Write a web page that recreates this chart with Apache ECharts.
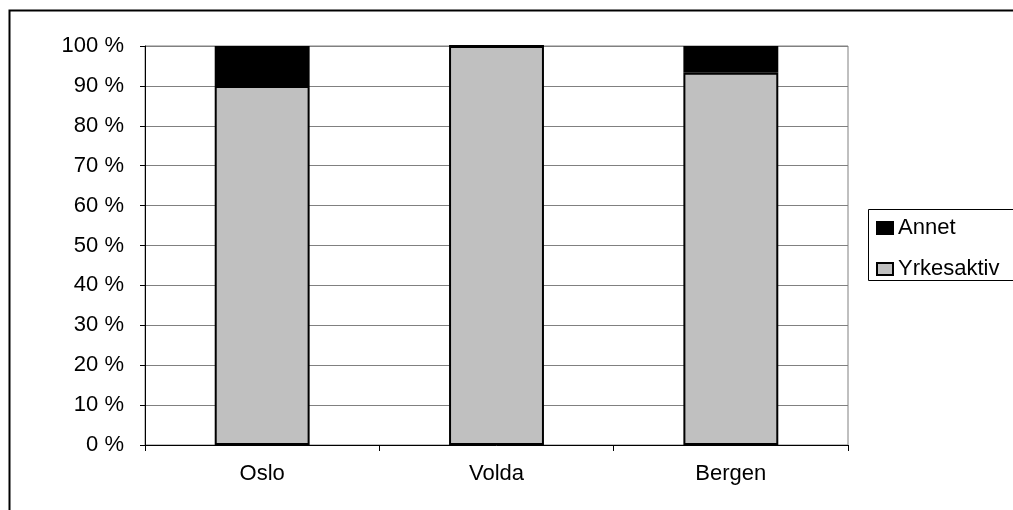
<!DOCTYPE html>
<html>
<head>
<meta charset="utf-8">
<script src="https://cdn.jsdelivr.net/npm/echarts@6/dist/echarts.min.js"></script>
<style>
  html, body { margin: 0; padding: 0; background: #fff; }
  #chart { width: 1013px; height: 510px; }
</style>
</head>
<body>
<div id="chart"></div>
<script>
'use strict';

// data
const cities = ['Oslo', 'Volda', 'Bergen'];
const yrkesaktiv = [90, 100, 93.3];
const annet = [10, 0, 6.7];

const font = 'Liberation Sans, Arial, sans-serif';
const chart = echarts.init(document.getElementById('chart'));

const option = {
    animation: false,
    textStyle: {fontFamily: font, color: '#000'},
    graphic: [
        // outer chart frame (runs off the right and bottom edge)
        {type: 'rect', shape: {x: 9.5, y: 10.5, width: 1020, height: 520},
            style: {fill: 'none', stroke: '#000', lineWidth: 2}, z: -1},
        // legend box
        {type: 'rect', shape: {x: 868.5, y: 209.5, width: 160, height: 71},
            style: {fill: 'none', stroke: '#000', lineWidth: 1}, z: -1}
    ],
    grid: {
        left: 145, right: 165, top: 46, bottom: 65,
        show: true, borderColor: '#808080', borderWidth: 1,
        containLabel: false
    },
    legend: {
        orient: 'vertical',
        left: 876, top: 217, padding: 0,
        itemWidth: 16, itemHeight: 12, itemGap: 19,
        icon: 'rect',
        data: ['Annet', 'Yrkesaktiv'],
        textStyle: {fontFamily: font, fontSize: 22, color: '#000'}
    },
    xAxis: {
        type: 'category',
        data: cities,
        axisLine: {lineStyle: {color: '#000', width: 1}},
        axisTick: {show: true, length: 6, lineStyle: {color: '#000'}},
        axisLabel: {fontSize: 22, color: '#000', margin: 18, fontFamily: font}
    },
    yAxis: {
        type: 'value',
        min: 0, max: 100, interval: 10,
        axisLine: {show: true, lineStyle: {color: '#000', width: 1}},
        axisTick: {show: true, length: 5, lineStyle: {color: '#000'}},
        axisLabel: {fontSize: 22, color: '#000', margin: 21, fontFamily: font,
            formatter: v => v + ' %'},
        splitLine: {lineStyle: {color: '#808080', width: 1}}
    },
    series: [
        {
            name: 'Yrkesaktiv', type: 'bar', stack: 'total',
            data: yrkesaktiv, barWidth: '40.5%',
            itemStyle: {color: '#c0c0c0', borderColor: '#000', borderWidth: 2}
        },
        {
            name: 'Annet', type: 'bar', stack: 'total',
            data: annet, barWidth: '40.5%',
            itemStyle: {color: '#000', borderColor: '#000', borderWidth: 2}
        }
    ]
};

chart.setOption(option);
</script>
</body>
</html>
